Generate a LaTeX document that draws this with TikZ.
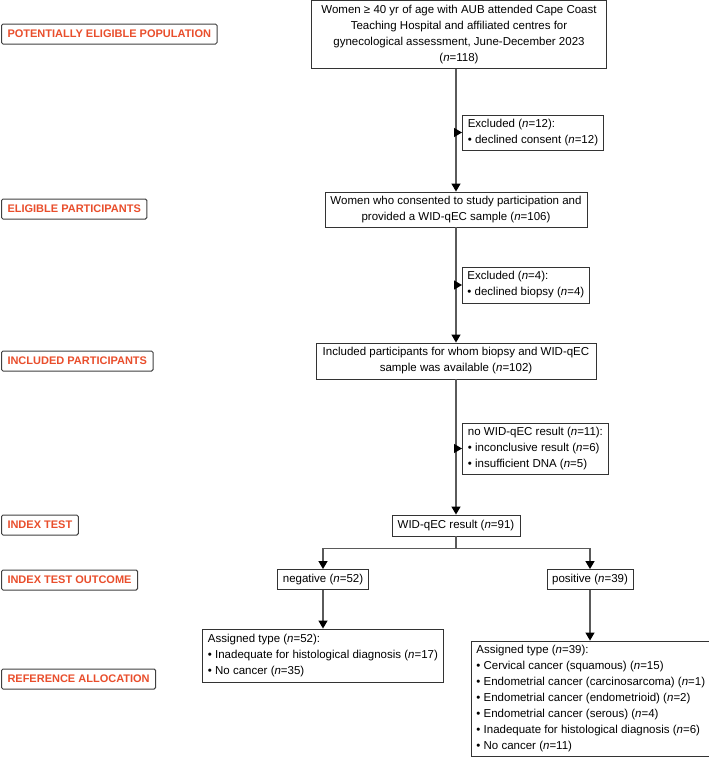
\documentclass[tikz,border=0pt]{standalone}
\usepackage{fontspec}
\setmainfont{Liberation Sans}
\usetikzlibrary{arrows.meta}
\definecolor{stagered}{RGB}{233,78,44}
\definecolor{linkgray}{RGB}{90,90,90}

\begin{document}
\begin{tikzpicture}[x=1pt,y=-1pt,
  box/.style={draw=black!80,line width=0.9pt,fill=white,inner xsep=5pt,inner ysep=3pt,align=center,font=\fontsize{11.5}{16}\selectfont},
  lbox/.style={box,align=left,anchor=west},
  stage/.style={draw=black!75,line width=1pt,rounded corners=1.5pt,fill=white,text=stagered,font=\bfseries\fontsize{11}{13}\selectfont,inner xsep=6pt,inner ysep=2pt,minimum height=20pt,anchor=west},
  link/.style={draw=linkgray,line width=1.3pt},
  arr/.style={link,-{Triangle[width=9pt,length=8pt,color=black]}}]
\useasboundingbox (0,0) rectangle (709,758);
\node[stage] (lpop) at (1,34) {POTENTIALLY ELIGIBLE POPULATION};
\node[stage] (lelig) at (1,209) {ELIGIBLE PARTICIPANTS};
\node[stage] (lincl) at (1,361) {INCLUDED PARTICIPANTS};
\node[stage] (lindex) at (1,525) {INDEX TEST};
\node[stage] (loutc) at (1,580) {INDEX TEST OUTCOME};
\node[stage] (lref) at (1,679) {REFERENCE ALLOCATION};
\node[box,minimum width=295pt,minimum height=68pt] (pop) at (459,34.5) {Women ≥ 40 yr of age with AUB attended Cape Coast\\Teaching Hospital and affiliated centres for\\gynecological assessment, June-December 2023\\(\textit{n}=118)};
\node[lbox,minimum width=141pt,minimum height=35pt] (excl1) at (462,132.5) {Excluded (\textit{n}=12):\\• declined consent (\textit{n}=12)};
\node[box,minimum width=262pt,minimum height=35pt] (elig) at (456,209.5) {Women who consented to study participation and\\provided a WID-qEC sample (\textit{n}=106)};
\node[lbox,minimum width=124pt,minimum height=36pt] (excl2) at (462,285) {Excluded (\textit{n}=4):\\• declined biopsy (\textit{n}=4)};
\node[box,minimum width=280pt,minimum height=36pt] (incl) at (456,361) {Included participants for whom biopsy and WID-qEC\\sample was available (\textit{n}=102)};
\node[lbox,minimum width=146pt,minimum height=51pt] (nores) at (462,448.5) {no WID-qEC result (\textit{n}=11):\\• inconclusive result (\textit{n}=6)\\• insufficient DNA (\textit{n}=5)};
\node[box,minimum width=128pt,minimum height=21pt] (wid) at (456,525.5) {WID-qEC result (\textit{n}=91)};
\node[box,minimum width=90pt,minimum height=20pt] (neg) at (323,579.5) {negative (\textit{n}=52)};
\node[box,minimum width=86pt,minimum height=20pt] (pos) at (590,579.5) {positive (\textit{n}=39)};
\node[lbox,minimum width=241pt,minimum height=53pt] (negtype) at (202,655.5) {Assigned type (\textit{n}=52):\\• Inadequate for histological diagnosis (\textit{n}=17)\\• No cancer (\textit{n}=35)};
\node[lbox,minimum width=236pt,minimum height=115pt] (postype) at (471,698.5) {Assigned type (\textit{n}=39):\\• Cervical cancer (squamous) (\textit{n}=15)\\• Endometrial cancer (carcinosarcoma) (\textit{n}=1)\\• Endometrial cancer (endometrioid) (\textit{n}=2)\\• Endometrial cancer (serous) (\textit{n}=4)\\• Inadequate for histological diagnosis (\textit{n}=6)\\• No cancer (\textit{n}=11)};
\draw[arr] (elig.north |- pop.south) -- (elig.north);
\draw[arr] (elig.south) -- (incl.north);
\draw[arr] (incl.south) -- (wid.north);
\draw[arr] (elig.north |- excl1.west) -- (excl1.west);
\draw[arr] (incl.north |- excl2.west) -- (excl2.west);
\draw[arr] (wid.north |- nores.west) -- (nores.west);
\draw[link] (wid.south) -- ++(0,12) coordinate (split);
\draw[arr] (split) -| (neg.north);
\draw[arr] (split) -| (pos.north);
\draw[arr] (neg.south) -- (neg.south |- negtype.north);
\draw[arr] (pos.south) -- (pos.south |- postype.north);
\end{tikzpicture}
\end{document}
